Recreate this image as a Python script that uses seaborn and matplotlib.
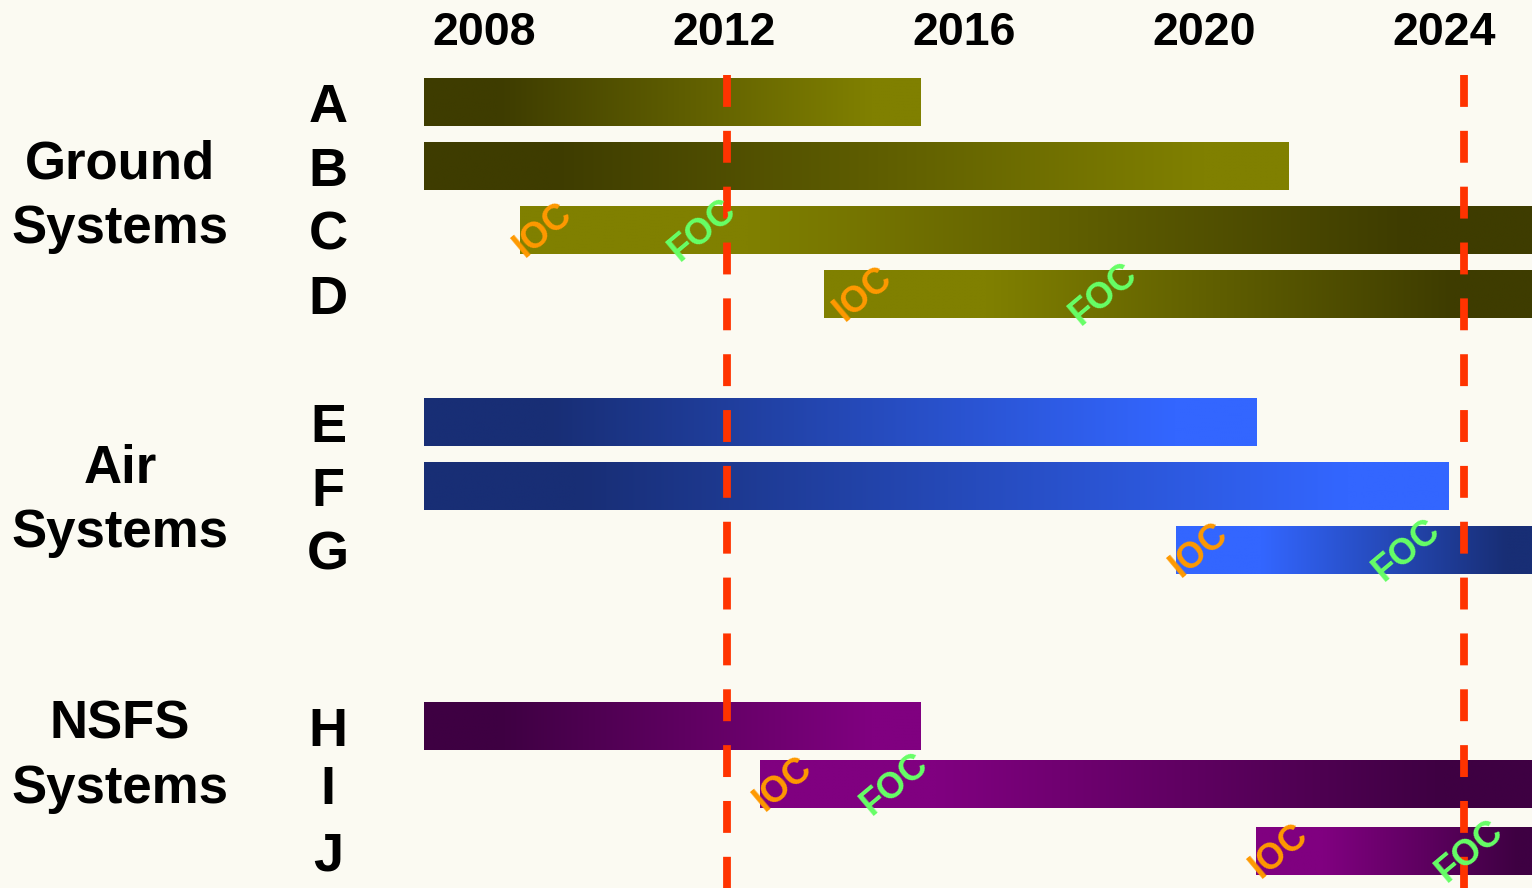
import numpy as np
import pandas as pd
import matplotlib
matplotlib.use("Agg")
import matplotlib.pyplot as plt
import matplotlib.transforms as mtransforms
from matplotlib.colors import to_rgb
import seaborn as sns

# ---------------- data ----------------
systems = ["A", "B", "C", "D", "E", "F", "G", "H", "I", "J"]
groups = ["Ground", "Ground", "Ground", "Ground", "Air", "Air", "Air", "NSFS", "NSFS", "NSFS"]
start_year = [2007.0, 2007.0, 2008.6, 2013.67, 2007.0, 2007.0, 2019.53, 2007.0, 2012.6, 2020.87]
end_year = [2015.27, 2021.4, 2026.0, 2026.0, 2020.87, 2024.07, 2026.0, 2015.27, 2026.0, 2026.0]
ioc_year = [np.nan, np.nan, 2008.98, 2014.32, np.nan, np.nan, 2019.92, np.nan, 2012.98, 2021.25]
foc_year = [np.nan, np.nan, 2011.65, 2018.32, np.nan, np.nan, 2023.38, np.nan, 2014.85, 2024.43]
milestone_years = [2012.05, 2024.33]
year_ticks = [2008, 2012, 2016, 2020, 2024]
group_names = ["Ground", "Air", "NSFS"]

# ---------------- layout / style ----------------
row_pos = [0, 1, 2, 3, 5, 6, 7, 9.75, 10.66, 11.7]
ramp_up = [True, True, False, False, True, True, False, True, False, False]
group_colors = {
    "Ground": ("#3e3c00", "#808000"),
    "Air": ("#182e75", "#3366ff"),
    "NSFS": ("#3e0042", "#800080"),
}
group_text_rows = {"Ground": (1.19, 2.20), "Air": (5.95, 6.95), "NSFS": (9.94, 10.95)}
BG = "#fbfaf2"
RED = "#ff3300"
IOC_COLOR = "#ff9900"
FOC_COLOR = "#66ff66"

W, H = 1532, 888
LEFT_PX = 424
PX_PER_YEAR = 60.0
X0 = 2007.0
X1 = X0 + (W - LEFT_PX) / PX_PER_YEAR
ROW_PX = 64.0
ROW0_PX = 102.0
Y_TOP = (0 - ROW0_PX) / ROW_PX
Y_BOT = (H - ROW0_PX) / ROW_PX

plt.rcParams["font.family"] = ["Liberation Sans", "DejaVu Sans"]
plt.rcParams["font.weight"] = "bold"

df = pd.DataFrame({
    "system": systems,
    "group": groups,
    "start": start_year,
    "end": end_year,
    "row": row_pos,
})
df["duration"] = df["end"] - df["start"]

fig = plt.figure(figsize=(W / 100, H / 100), dpi=100)
fig.patch.set_facecolor(BG)
ax = fig.add_axes([LEFT_PX / W, 0, 1 - LEFT_PX / W, 1])
ax.set_facecolor(BG)

bar_w = 0.75 / np.min(np.diff(row_pos))
sns.barplot(data=df, x="duration", y="row", orient="h", native_scale=True,
            errorbar=None, width=bar_w, left=df["start"].to_numpy(),
            color="#808000", linewidth=0, ax=ax)


def ramp(c0, c1, stops, n=400):
    t = np.linspace(0, 1, n)
    f = np.clip((t - stops[0]) / (stops[1] - stops[0]), 0, 1)
    a = np.array(to_rgb(c0))
    b = np.array(to_rgb(c1))
    rgb = (1 - f)[:, None] * a + f[:, None] * b
    return rgb[None, :, :]


bars = sorted(ax.patches, key=lambda p: p.get_y())
for patch, grp, up in zip(bars, df["group"], ramp_up):
    dark, bright = group_colors[grp]
    if up:
        img = ramp(dark, bright, (0.15, 0.9))
    else:
        img = ramp(bright, dark, (0.22, 0.85))
    x0, y0 = patch.get_x(), patch.get_y()
    x1, y1 = x0 + patch.get_width(), y0 + patch.get_height()
    patch.set_facecolor("none")
    patch.set_edgecolor("none")
    im = ax.imshow(img, extent=(x0, x1, y1, y0), aspect="auto",
                   interpolation="bilinear", zorder=1)
    im.set_clip_path(patch)

for m in milestone_years:
    ax.plot([m, m], [-0.42, Y_BOT + 0.5], color=RED, lw=5.6,
            ls=(0, (4.1, 3.08)), solid_capstyle="butt", dash_capstyle="butt",
            zorder=3)

for r, ioc, foc in zip(row_pos, ioc_year, foc_year):
    if not np.isnan(ioc):
        ax.text(ioc, r, "IOC", rotation=40, rotation_mode="anchor", ha="center",
                va="center", color=IOC_COLOR, fontsize=26, fontweight="bold", zorder=4)
    if not np.isnan(foc):
        ax.text(foc, r, "FOC", rotation=40, rotation_mode="anchor", ha="center",
                va="center", color=FOC_COLOR, fontsize=26, fontweight="bold", zorder=4)

ax.set_xlim(X0, X1)
ax.set_ylim(Y_BOT, Y_TOP)
ax.set_aspect("auto")
for s in ax.spines.values():
    s.set_visible(False)
ax.set_xlabel("")
ax.set_ylabel("")

# top year labels
ax.xaxis.set_ticks_position("top")
ax.set_xticks(year_ticks, labels=[str(y) for y in year_ticks])
ax.tick_params(axis="x", length=0, pad=-32.4, labelsize=33.5, labelcolor="black")
for t in ax.get_xticklabels():
    t.set_va("baseline")
    t.set_fontweight("bold")

# system letters
ax.set_yticks(row_pos, labels=systems)
ax.tick_params(axis="y", length=0, pad=69.1, labelsize=39, labelcolor="black")
for t in ax.get_yticklabels():
    t.set_ha("center")
    t.set_va("center_baseline")
    t.set_fontweight("bold")

# group labels
trans = mtransforms.blended_transform_factory(fig.transFigure, ax.transData)
for g in group_names:
    r1, r2 = group_text_rows[g]
    ax.text(120 / W, r1, g, transform=trans, ha="center", va="baseline",
            fontsize=38, fontweight="bold", color="black", clip_on=False)
    ax.text(120 / W, r2, "Systems", transform=trans, ha="center", va="baseline",
            fontsize=38, fontweight="bold", color="black", clip_on=False)

fig.savefig("out.png", dpi=100, facecolor=BG)
